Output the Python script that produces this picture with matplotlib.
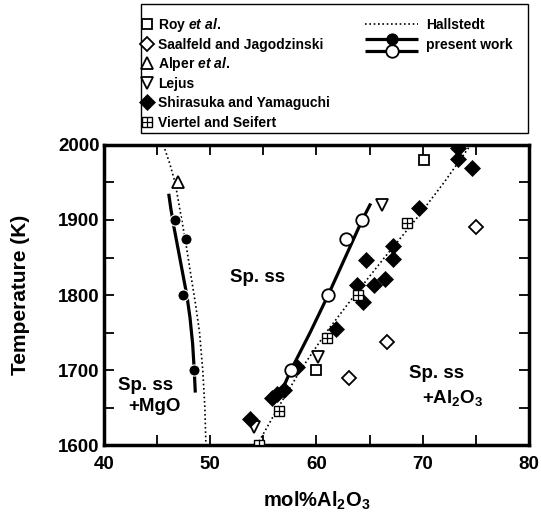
import matplotlib
matplotlib.use("Agg")
import matplotlib.pyplot as plt
from matplotlib.lines import Line2D
from matplotlib.patches import Rectangle

plt.rcParams['font.family'] = ['Liberation Sans', 'DejaVu Sans']
plt.rcParams['font.weight'] = 'bold'
plt.rcParams['mathtext.fontset'] = 'custom'
plt.rcParams['mathtext.rm'] = 'Liberation Sans:bold'
plt.rcParams['mathtext.bf'] = 'Liberation Sans:bold'
plt.rcParams['mathtext.it'] = 'Liberation Sans:bold:italic'
plt.rcParams['mathtext.default'] = 'rm'

# ---------------- data ----------------
roy_x = [70.1, 60.0]
roy_T = [1980, 1700]

saal_x = [75.0, 66.6, 63.1]
saal_T = [1890, 1737, 1690]

alper_x = [47.0]
alper_T = [1950]

lejus_x = [66.2, 60.1, 54.1]
lejus_T = [1920, 1718, 1624]

shira_x = [53.7, 55.8, 56.3, 56.9, 58.2, 61.8, 63.8, 64.4, 64.7, 65.4, 66.4,
           67.2, 67.2, 69.6, 73.3, 73.3, 74.6]
shira_T = [1635, 1663, 1668, 1673, 1704, 1755, 1813, 1791, 1847, 1813, 1821,
           1848, 1866, 1916, 1981, 1996, 1969]

viertel_x = [68.5, 63.9, 61.0, 56.5, 54.6]
viertel_T = [1896, 1800, 1743, 1645, 1600]

hall_left_x = [45.6, 46.2, 46.7, 47.2, 47.7, 48.2, 48.6, 49.0, 49.3, 49.5, 49.6]
hall_left_T = [2000, 1975, 1950, 1910, 1870, 1825, 1790, 1750, 1700, 1650, 1600]

hall_right_x = [54.4, 56.4, 58.5, 60.9, 63.6, 66.4, 69.3, 72.0, 74.5]
hall_right_T = [1600, 1650, 1700, 1750, 1800, 1850, 1900, 1950, 2000]

pw_left_line_x = [46.1, 46.3, 46.6, 47.0, 47.4, 47.8, 48.1, 48.35, 48.5, 48.6]
pw_left_line_T = [1935, 1915, 1890, 1860, 1830, 1800, 1770, 1735, 1700, 1670]
pw_left_pts_x = [46.7, 47.7, 47.4, 48.5]
pw_left_pts_T = [1900, 1875, 1800, 1700]

pw_right_line_x = [56.5, 57.6, 59.4, 61.1, 62.7, 64.3, 65.1]
pw_right_line_T = [1665, 1700, 1750, 1800, 1850, 1900, 1922]
pw_right_pts_x = [57.6, 61.1, 62.8, 64.3]
pw_right_pts_T = [1700, 1800, 1875, 1900]

xticks = [40, 50, 60, 70, 80]
yticks = [1600, 1700, 1800, 1900, 2000]

legend_col1 = [r'Roy $\it{et\ al.}$', 'Saalfeld and Jagodzinski',
               r'Alper $\it{et\ al.}$', 'Lejus',
               'Shirasuka and Yamaguchi', 'Viertel and Seifert']
legend_col2 = ['Hallstedt', 'present work']

# ---------------- figure ----------------
W, H = 541, 514
fig = plt.figure(figsize=(W / 100, H / 100), dpi=100)
ax = fig.add_axes([0.192, 0.134, 0.786, 0.584])

dot = (0, (1, 1.6))
mew = 1.3

# style per series
sty_roy = dict(marker='s', ms=6.5, mfc='white', mec='k', mew=mew)
sty_saal = dict(marker='D', ms=7, mfc='white', mec='k', mew=mew)
sty_alper = dict(marker='^', ms=8.5, mfc='white', mec='k', mew=mew)
sty_lejus = dict(marker='v', ms=8.5, mfc='white', mec='k', mew=mew)
sty_shira = dict(marker='D', ms=8, mfc='k', mec='k', mew=0.5)
sty_vsq = dict(marker='s', ms=6.5, mfc='white', mec='k', mew=1.0)
sty_vpl = dict(marker='+', ms=6.5, mec='k', mew=0.9)
sty_fill = dict(marker='o', ms=8, mfc='k', mec='white', mew=0.8)
sty_open = dict(marker='o', ms=9, mfc='white', mec='k', mew=mew)

ax.plot(hall_left_x, hall_left_T, color='k', lw=1.2, ls=dot, zorder=2)
ax.plot(hall_right_x, hall_right_T, color='k', lw=1.2, ls=dot, zorder=2)

ax.plot(pw_left_line_x, pw_left_line_T, color='k', lw=2.3, zorder=3,
        solid_capstyle='butt', solid_joinstyle='round')
ax.plot(pw_right_line_x, pw_right_line_T, color='k', lw=2.3, zorder=3,
        solid_capstyle='butt', solid_joinstyle='round')

ax.plot(pw_left_pts_x, pw_left_pts_T, ls='none', zorder=5, **sty_fill)
ax.plot(pw_right_pts_x, pw_right_pts_T, ls='none', zorder=5, **sty_open)

ax.plot(roy_x, roy_T, ls='none', zorder=4, **sty_roy)
ax.plot(saal_x, saal_T, ls='none', zorder=4, **sty_saal)
ax.plot(alper_x, alper_T, ls='none', zorder=4, **sty_alper)
ax.plot(lejus_x, lejus_T, ls='none', zorder=4, **sty_lejus)
ax.plot(shira_x, shira_T, ls='none', zorder=4, **sty_shira)
ax.plot(viertel_x, viertel_T, ls='none', zorder=4, **sty_vsq)
ax.plot(viertel_x, viertel_T, ls='none', zorder=4, **sty_vpl)

ax.set_xlim(40, 80)
ax.set_ylim(1600, 2000)
ax.set_xticks(xticks)
ax.set_yticks(yticks)
ax.set_xticks([45, 55, 65, 75], minor=True)
ax.set_yticks([1650, 1750, 1850, 1950], minor=True)
ax.tick_params(which='both', direction='in', length=7, width=1.3,
               top=True, right=True, labelsize=13.5)
ax.tick_params(axis='x', pad=8)
ax.tick_params(axis='y', pad=3)
for lab in ax.get_xticklabels() + ax.get_yticklabels():
    lab.set_fontweight('bold')
for s in ax.spines.values():
    s.set_linewidth(2.5)

ax.set_xlabel(r'mol%Al$_2$O$_3$', fontsize=14.5, fontweight='bold',
              labelpad=12)
ax.set_ylabel('Temperature (K)', fontsize=15, fontweight='bold',
              labelpad=20)

ax.text(54.5, 1823, 'Sp. ss', fontsize=13.5, fontweight='bold',
        ha='center', va='center')
ax.text(43.9, 1680, 'Sp. ss', fontsize=13.5, fontweight='bold',
        ha='center', va='center')
ax.text(44.8, 1651, '+MgO', fontsize=13.5, fontweight='bold',
        ha='center', va='center')
ax.text(71.3, 1696, 'Sp. ss', fontsize=13.5, fontweight='bold',
        ha='center', va='center')
ax.text(72.8, 1663, r'+Al$_2$O$_3$', fontsize=13.5, fontweight='bold',
        ha='center', va='center')

# ---------------- legend (built by hand, in figure pixels) ----------------
def fx(px):
    return px / W


def fy(py):
    return 1 - py / H


def fig_line(xs, ys, **kw):
    fig.add_artist(Line2D([fx(v) for v in xs], [fy(v) for v in ys],
                          transform=fig.transFigure, **kw))


row_y = [24 + i * 19.6 for i in range(6)]
col1_styles = [[sty_roy], [sty_saal], [sty_alper], [sty_lejus], [sty_shira],
               [sty_vsq, sty_vpl]]
for y, label, stys in zip(row_y, legend_col1, col1_styles):
    for st in stys:
        fig_line([147], [y], ls='none', **st)
    fig.text(fx(158), fy(y + 5), label, fontsize=10, fontweight='bold',
             ha='left', va='baseline')

# Hallstedt
fig_line([365, 418], [row_y[0], row_y[0]], color='k', lw=1.2, ls=dot)
fig.text(fx(426), fy(row_y[0] + 5), legend_col2[0], fontsize=10,
         fontweight='bold', ha='left', va='baseline')
# present work
for y, st in [(39, sty_fill), (51, sty_open)]:
    fig_line([365, 418], [y, y], color='k', lw=2.3, solid_capstyle='butt')
    fig_line([392], [y], ls='none', **dict(st, mec='k'))
fig.text(fx(426), fy(row_y[1] + 5), legend_col2[1], fontsize=10,
         fontweight='bold', ha='left', va='baseline')

fig.add_artist(Rectangle((fx(141), fy(133)), fx(528 - 141), (133 - 4) / H,
                         transform=fig.transFigure, fill=False,
                         ec='k', lw=1.0))

fig.savefig('out.png', dpi=100)
